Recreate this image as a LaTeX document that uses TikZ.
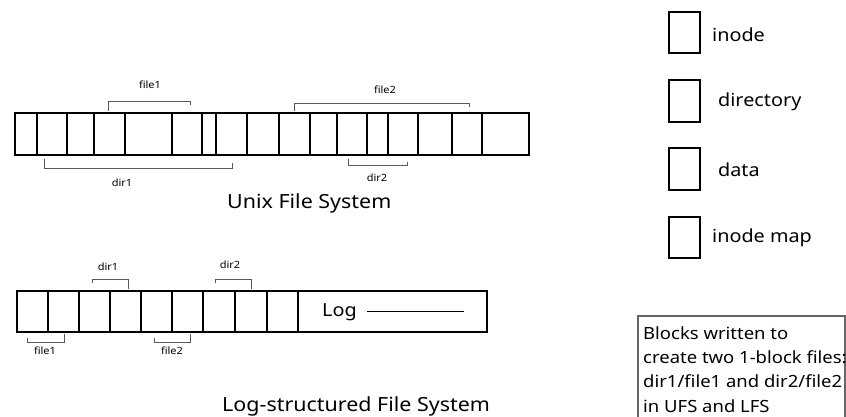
\documentclass[tikz,border=0pt]{standalone}
\usepackage{fontspec}
\setmainfont[FakeStretch=1.1]{Noto Sans}
\begin{document}
\begin{tikzpicture}[x=1pt,y=-1pt,
  blk/.style={draw=black,line width=1.6pt},
  brk/.style={draw=black!65,line width=0.9pt},
  small/.style={font=\fontsize{10}{12}\selectfont,inner sep=0pt},
  big/.style={font=\fontsize{19.5}{22}\selectfont,inner sep=0pt},
  leg/.style={font=\fontsize{18}{21}\selectfont,inner sep=0pt,anchor=west},
  note/.style={font=\fontsize{16.8}{20}\selectfont,inner sep=0pt,anchor=base west}]
\useasboundingbox (0,0) rectangle (846,417);
% ---------- Unix File System row ----------
\coordinate (u1) at (15,113);
\coordinate (u2) at (529,155);
\draw[blk] (u1) rectangle (u2);
\foreach \x in {37,67,94,125,172,202,216,247,279,310,337,367,388,418,452,482}
  \draw[blk] (\x,113) -- (\x,155);
% brackets
\draw[brk] (108,111) -- (108,101.7) -- (190,101.7) -- (190,105.5);
\node[small] (uf1) at (150,85) {file1};
\draw[brk] (294,111) -- (294,103.3) -- (469,103.3) -- (469,107);
\node[small] (uf2) at (385,90) {file2};
\draw[brk] (44,159) -- (44,168) -- (232,168) -- (232,163.5);
\node[small] (ud1) at (122,183) {dir1};
\draw[brk] (348,159) -- (348,165.7) -- (407,165.7) -- (407,162.5);
\node[small] (ud2) at (377,178) {dir2};
\node[big,anchor=base west] (utitle) at (227,208) {Unix File System};
% ---------- LFS row ----------
\draw[blk] (17,291) rectangle (487,332);
\foreach \x in {48,79,110,141,172,203,235,267,298}
  \draw[blk] (\x,291) -- (\x,332);
\node[font=\fontsize{18}{21}\selectfont,inner sep=0pt,anchor=west] (log) at (322,312) {Log};
\coordinate (logline) at (464,311.7);
\draw[line width=1.2pt] ([xshift=10pt]log.east |- logline) -- (logline);
% brackets
\draw[brk] (92,283) -- (92,279.3) -- (128,279.3) -- (128,289);
\node[small] (ld1) at (108,267) {dir1};
\draw[brk] (215,283) -- (215,279.3) -- (251,279.3) -- (251,289);
\node[small] (ld2) at (230,265) {dir2};
\draw[brk] (27,338) -- (27,342.3) -- (64,342.3) -- (64,334);
\node[small] (lf1) at (45,351) {file1};
\draw[brk] (154,338) -- (154,342.3) -- (190,342.3) -- (190,334);
\node[small] (lf2) at (172,351) {file2};
\node[big,anchor=base west] (ltitle) at (222,411) {Log-structured File System};
% ---------- Legend ----------
\draw[blk,line width=1.4pt] (669,12) rectangle (700,53);
\node[leg] (li) at (712,35) {inode};
\draw[blk,line width=1.4pt] (669,80) rectangle (700,122);
\node[leg] (ld) at (718,102) {directory};
\draw[blk,line width=1.4pt] (669,148) rectangle (700,190);
\node[leg] (lda) at (718,170) {data};
\draw[blk,line width=1.4pt] (669,217) rectangle (700,258);
\node[leg] (lim) at (712,238) {inode map};
% ---------- Note box ----------
\draw[draw=black!60,line width=1.2pt] (638,417) -- (638,316) -- (845,316) -- (845,417);
\node[note] (n1) at (643,339.3) {Blocks written to};
\node[note] (n2) at (643,363.6) {create two 1-block files:};
\node[note] (n3) at (643,387.9) {dir1/file1 and dir2/file2};
\node[note] (n4) at (643,412.2) {in UFS and LFS};
\end{tikzpicture}
\end{document}
